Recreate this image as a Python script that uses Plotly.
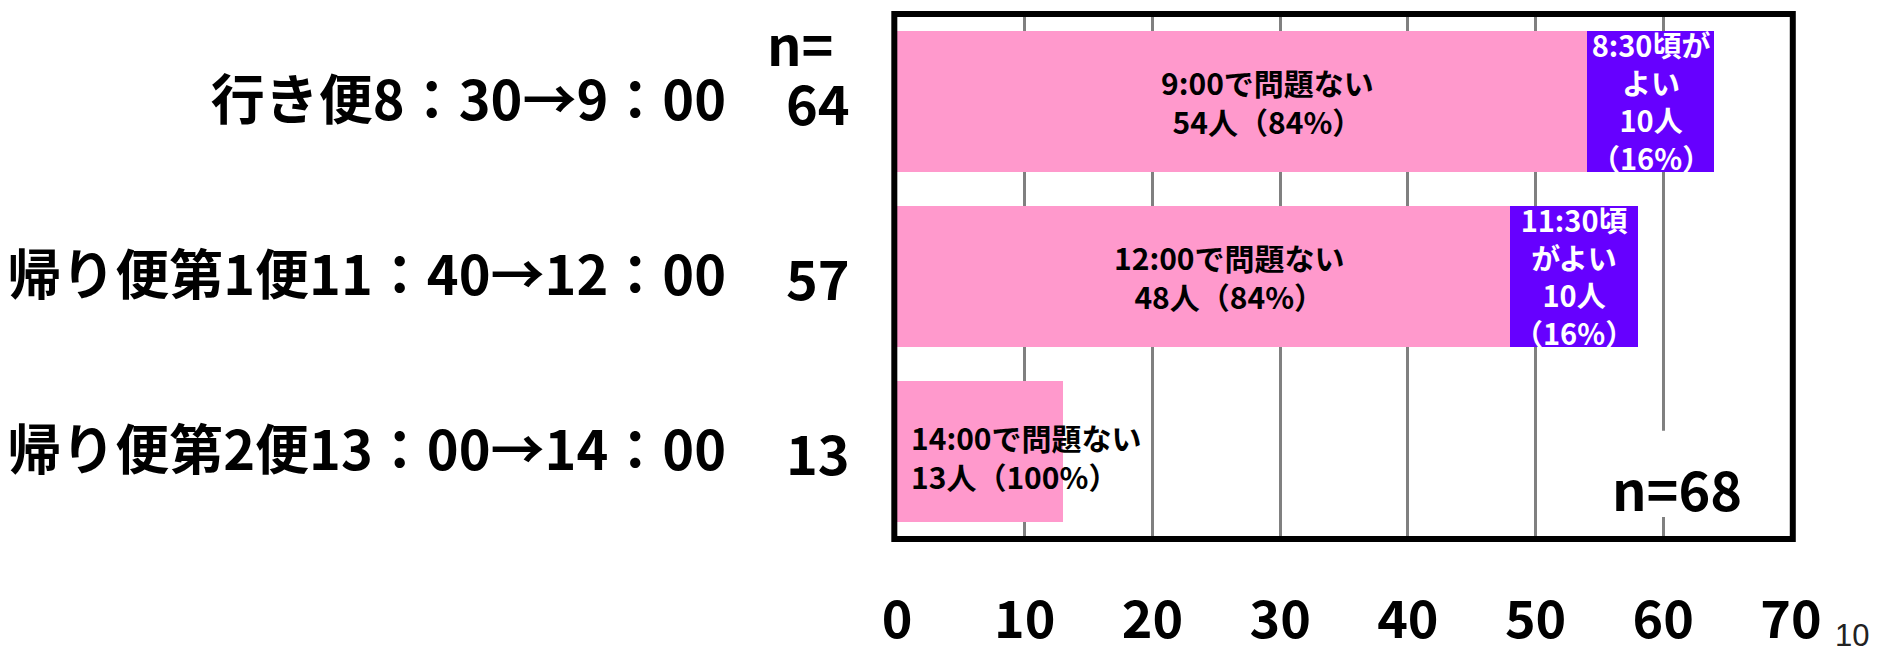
import plotly.graph_objects as go

# Routes (top to bottom) and respondent counts per route
routes = ["行き便8：30→9：00", "帰り便第1便11：40→12：00", "帰り便第2便13：00→14：00"]
route_n = [64, 57, 13]

# "No problem with the new time" answers
ok_counts = [54, 48, 13]
ok_pct = [84, 84, 100]
ok_time = ["9:00", "12:00", "14:00"]

# "Prefer the earlier time" answers (none for the last route)
early_counts = [10, 10, 0]
early_pct = [16, 16, None]
early_head = ["8:30頃が<br>よい", "11:30頃<br>がよい", ""]

total_n = 68
x_ticks = [0, 10, 20, 30, 40, 50, 60, 70]

PINK = "#FF99CC"
PURPLE = "#6600FF"
JP = "Noto Sans CJK JP"

fig = go.Figure()
fig.add_trace(go.Bar(
    y=routes, x=ok_counts, orientation="h",
    marker=dict(color=PINK, line=dict(width=0)), name="ok",
))
fig.add_trace(go.Bar(
    y=routes, x=early_counts, orientation="h",
    marker=dict(color=PURPLE, line=dict(width=0)), name="early",
))

ann = []
for i, r in enumerate(routes):
    ok_text = f"{ok_time[i]}で問題ない<br>{ok_counts[i]}人（{ok_pct[i]}%）"
    if early_counts[i] > 0:
        # label centred in the pink segment
        ann.append(dict(x=ok_counts[i] / 2, y=r, xref="x", yref="y", text=ok_text,
                        showarrow=False, xshift=26, xanchor="center", yanchor="middle",
                        font=dict(family=JP, size=30, color="black", weight="bold")))
        # label centred in the purple segment
        ann.append(dict(x=ok_counts[i] + early_counts[i] / 2, y=r, xref="x", yref="y",
                        text=f"{early_head[i]}<br>{early_counts[i]}人<br>（{early_pct[i]}%）",
                        showarrow=False, yshift=1, xanchor="center", yanchor="middle",
                        font=dict(family=JP, size=29, color="white", weight="bold")))
    else:
        # short bar: label starts at the left edge and runs past the bar
        ann.append(dict(x=0, y=r, xref="x", yref="y", text=ok_text, align="left",
                        xanchor="left", yanchor="middle", showarrow=False,
                        xshift=12, yshift=-5,
                        font=dict(family=JP, size=30, color="black", weight="bold")))
    # respondent count next to the route label
    ann.append(dict(x=-0.05, y=r, xref="paper", yref="y", text=str(route_n[i]),
                    xanchor="right", yanchor="middle", showarrow=False,
                    font=dict(family=JP, size=54, color="black", weight="bold")))

ann.append(dict(x=-0.1085, y=0.945, xref="paper", yref="paper", text="n=",
                showarrow=False, xanchor="center", yanchor="middle",
                font=dict(family=JP, size=54, color="black", weight="bold")))
ann.append(dict(x=0.8725, y=0.099, xref="paper", yref="paper", text=f"n={total_n}",
                showarrow=False, xanchor="center", yanchor="middle",
                font=dict(family=JP, size=54, color="black", weight="bold")))
ann.append(dict(x=1.068, y=-0.184, xref="paper", yref="paper", text="10",
                showarrow=False, xanchor="center", yanchor="middle",
                font=dict(family="Liberation Sans", size=31, color="#222222")))

fig.update_layout(
    barmode="stack",
    bargap=0.194,
    width=1878, height=653,
    margin=dict(l=897, r=87, t=14, b=114, pad=0),
    plot_bgcolor="white", paper_bgcolor="white",
    showlegend=False,
    annotations=ann,
    shapes=[
        # white backing behind the total-n label (hides the grid line there)
        dict(type="rect", xref="paper", yref="paper", x0=0.79, x1=0.955,
             y0=0.042, y1=0.206, fillcolor="white", line=dict(width=0), layer="above"),
        # heavy chart frame
        dict(type="rect", xref="paper", yref="paper", x0=-0.003, x1=1.002,
             y0=0, y1=1, line=dict(color="black", width=6), layer="above"),
    ],
)
fig.update_xaxes(
    range=[0, 70], tickvals=x_ticks, showgrid=True, gridcolor="#808080", gridwidth=3,
    zeroline=False, showline=False, ticks="", ticklabelstandoff=46, automargin=False,
    tickfont=dict(family=JP, size=52, color="black", weight="bold"),
)
fig.update_yaxes(
    autorange="reversed", showgrid=False, zeroline=False, showline=False, ticks="",
    ticklabelstandoff=170, automargin=False,
    tickfont=dict(family=JP, size=54, color="black", weight="bold"),
)

fig.write_html("out.html")
